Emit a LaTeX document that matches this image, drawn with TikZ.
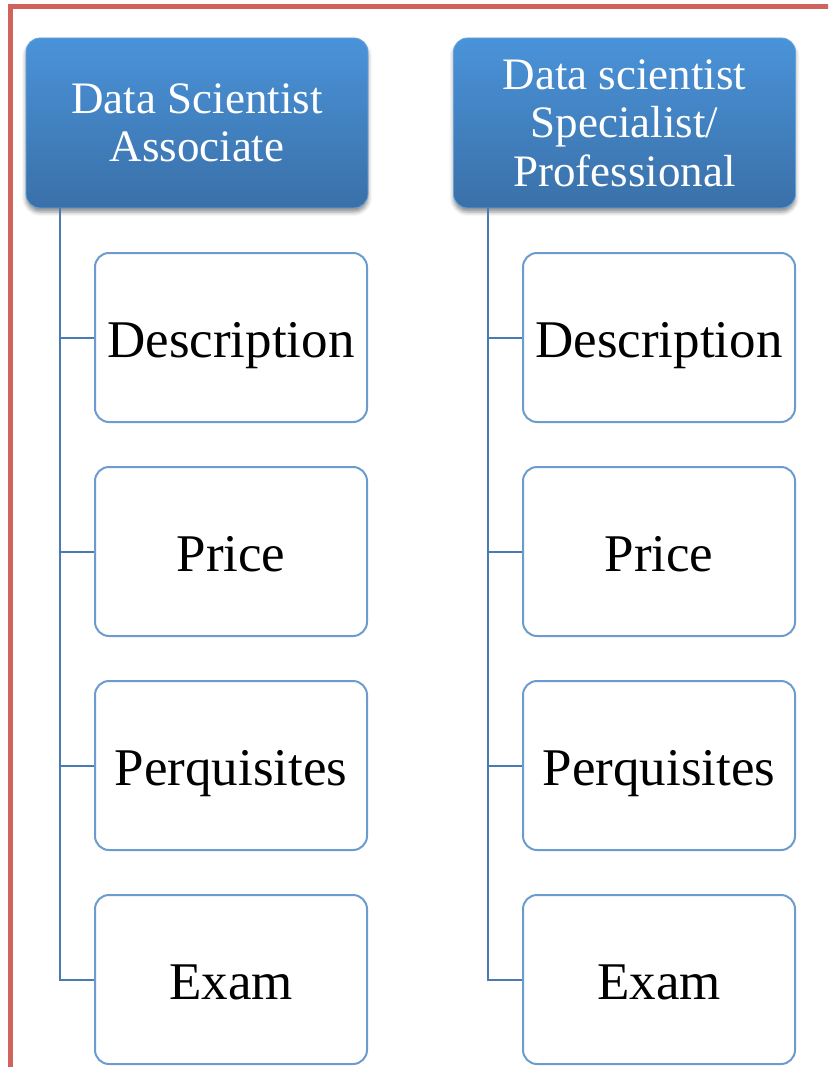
\documentclass[tikz,border=0pt]{standalone}
\usepackage{fontspec}
\setmainfont{Liberation Serif}
\usetikzlibrary{shadows.blur}
\definecolor{framered}{HTML}{D0645D}
\definecolor{hdrtop}{HTML}{4A93D9}
\definecolor{hdrbot}{HTML}{3A70A8}
\definecolor{boxline}{HTML}{6C9BD0}
\definecolor{linkblue}{HTML}{4A7AB2}
\tikzset{
  header/.style={rectangle, rounded corners=14pt, top color=hdrtop,
    bottom color=hdrbot, draw=hdrtop!85!white, line width=0.8pt,
    text=white, align=center, inner sep=0pt, minimum width=342pt,
    minimum height=170pt, font=\fontsize{45}{48.5}\selectfont,
    blur shadow={shadow xshift=0pt, shadow yshift=-4pt,
      shadow blur radius=4pt, shadow opacity=45}},
  item/.style={rectangle, rounded corners=14pt, draw=boxline,
    line width=2pt, fill=white, minimum width=272pt,
    minimum height=169pt, text height=40pt, text depth=0pt,
    font=\fontsize{53}{60}\selectfont},
  link/.style={draw=linkblue, line width=2pt}
}
\begin{document}
\begin{tikzpicture}[x=1pt,y=-1pt]
      \useasboundingbox (0,0) rectangle (828,1067);
      \begin{scope}
        \clip (0,0) rectangle (828,1067);
        \draw[framered, line width=5pt] (10,1090) -- (10,7) -- (850,7);
      \end{scope}
      \draw
        (197,123) node[header] (assoc){Data Scientist\\Associate}
        (624.5,123) node[header] (spec){Data scientist\\Specialist/\\Professional};
      \draw
        (231,337.5) node[item] (assoc-desc){Description}
        (231,551.5) node[item] (assoc-price){Price}
        (231,765.5) node[item] (assoc-pre){Perquisites}
        (231,979.5) node[item] (assoc-exam){Exam}
        (659,337.5) node[item] (spec-desc){Description}
        (659,551.5) node[item] (spec-price){Price}
        (659,765.5) node[item] (spec-pre){Perquisites}
        (659,979.5) node[item] (spec-exam){Exam};
      \begin{scope}[link]
        \draw ([xshift=34pt]assoc.south west) |- (assoc-desc.west);
        \draw ([xshift=34pt]assoc.south west) |- (assoc-price.west);
        \draw ([xshift=34pt]assoc.south west) |- (assoc-pre.west);
        \draw ([xshift=34pt]assoc.south west) |- (assoc-exam.west);
        \draw ([xshift=35pt]spec.south west) |- (spec-desc.west);
        \draw ([xshift=35pt]spec.south west) |- (spec-price.west);
        \draw ([xshift=35pt]spec.south west) |- (spec-pre.west);
        \draw ([xshift=35pt]spec.south west) |- (spec-exam.west);
      \end{scope}
    \end{tikzpicture}
\end{document}
